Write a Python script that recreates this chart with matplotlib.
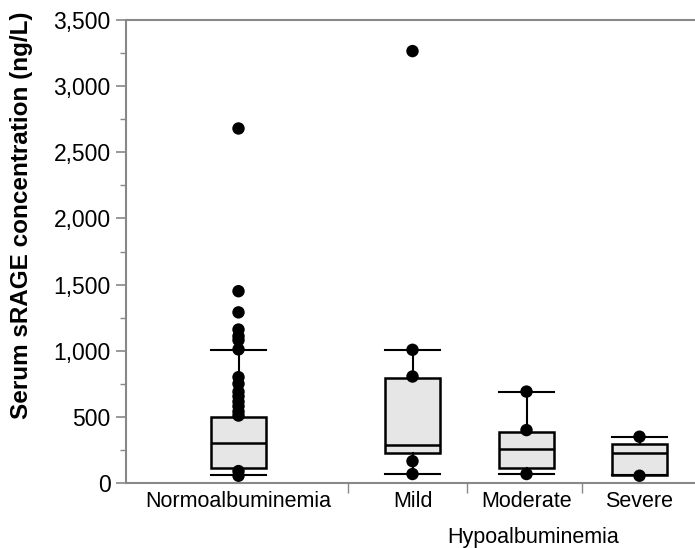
import matplotlib
matplotlib.use("Agg")
from matplotlib import pyplot as plt
from matplotlib.ticker import FuncFormatter, MultipleLocator, FixedLocator

plt.rcParams['font.family'] = ['Liberation Sans', 'DejaVu Sans']

# box statistics (ng/L)
groups = ['Normoalbuminemia', 'Mild', 'Moderate', 'Severe']
q1 = [113, 225, 113, 60]
med = [300, 290, 255, 225]
q3 = [496, 796, 383, 293]
whislo = [60, 68, 68, 60]
whishi = [1005, 1007, 691, 345]

# individual points drawn on top of the boxes
pts_normo = [2680, 1450, 1290, 1160, 1110, 1080, 1010, 800, 750, 690, 655,
             615, 580, 540, 510, 90, 55]
pts_mild = [3265, 1007, 805, 165, 68]
pts_moderate = [691, 400, 68]
pts_severe = [350, 55]
points = [pts_normo, pts_mild, pts_moderate, pts_severe]

yticks = [0, 500, 1000, 1500, 2000, 2500, 3000, 3500]

positions = [1.125, 2.865, 4.005, 5.135]
separators = [2.22, 3.41, 4.56]
width = 0.55

fig = plt.figure(figsize=(6.95, 5.48), dpi=100)
ax = fig.add_axes([0.1813, 0.1186, 0.8187, 0.8449])

stats = []
for i, g in enumerate(groups):
    stats.append({'label': g, 'q1': q1[i], 'med': med[i], 'q3': q3[i],
                  'whislo': whislo[i], 'whishi': whishi[i], 'fliers': []})

ax.bxp(stats, positions=positions, widths=width, capwidths=width,
       patch_artist=True, showfliers=False,
       boxprops=dict(facecolor='#e6e6e6', edgecolor='black', linewidth=1.8),
       medianprops=dict(color='black', linewidth=1.8),
       whiskerprops=dict(color='black', linewidth=1.5),
       capprops=dict(color='black', linewidth=1.5))

for pos, vals in zip(positions, points):
    ax.scatter([pos] * len(vals), vals, s=80, color='black', zorder=5,
               edgecolors='none')

ax.set_xlim(0, 5.69)
ax.set_ylim(0, 3500)

# y axis
ax.yaxis.set_major_locator(FixedLocator(yticks))
ax.yaxis.set_minor_locator(MultipleLocator(250))
ax.yaxis.set_major_formatter(FuncFormatter(lambda v, p: f"{int(v):,}"))
ax.tick_params(axis='y', which='major', length=7, width=1.2, color='#888888',
               labelsize=16.5, pad=4)
ax.tick_params(axis='y', which='minor', length=4, width=1.0, color='#888888')

# x axis: labels at box positions, separator ticks between groups
ax.set_xticks(positions)
ax.set_xticklabels(groups)
ax.xaxis.set_minor_locator(FixedLocator(separators))
ax.tick_params(axis='x', which='major', length=0, labelsize=15.5, pad=6)
ax.tick_params(axis='x', which='minor', length=7, width=1.0, color='#888888')

# y label sits a bit above the axes centre in the original
fig.text(0.031, 0.607, 'Serum sRAGE concentration (ng/L)', rotation=90,
         ha='center', va='center', fontsize=17.5, fontweight='bold')

for side in ['left', 'bottom', 'top']:
    ax.spines[side].set_color('#888888')
    ax.spines[side].set_linewidth(1.5)
ax.spines['right'].set_visible(False)

ax.text(positions[2] + 0.07, -0.095, 'Hypoalbuminemia', transform=ax.get_xaxis_transform(),
        ha='center', va='top', fontsize=15.5)

fig.savefig('out.png', dpi=100)
